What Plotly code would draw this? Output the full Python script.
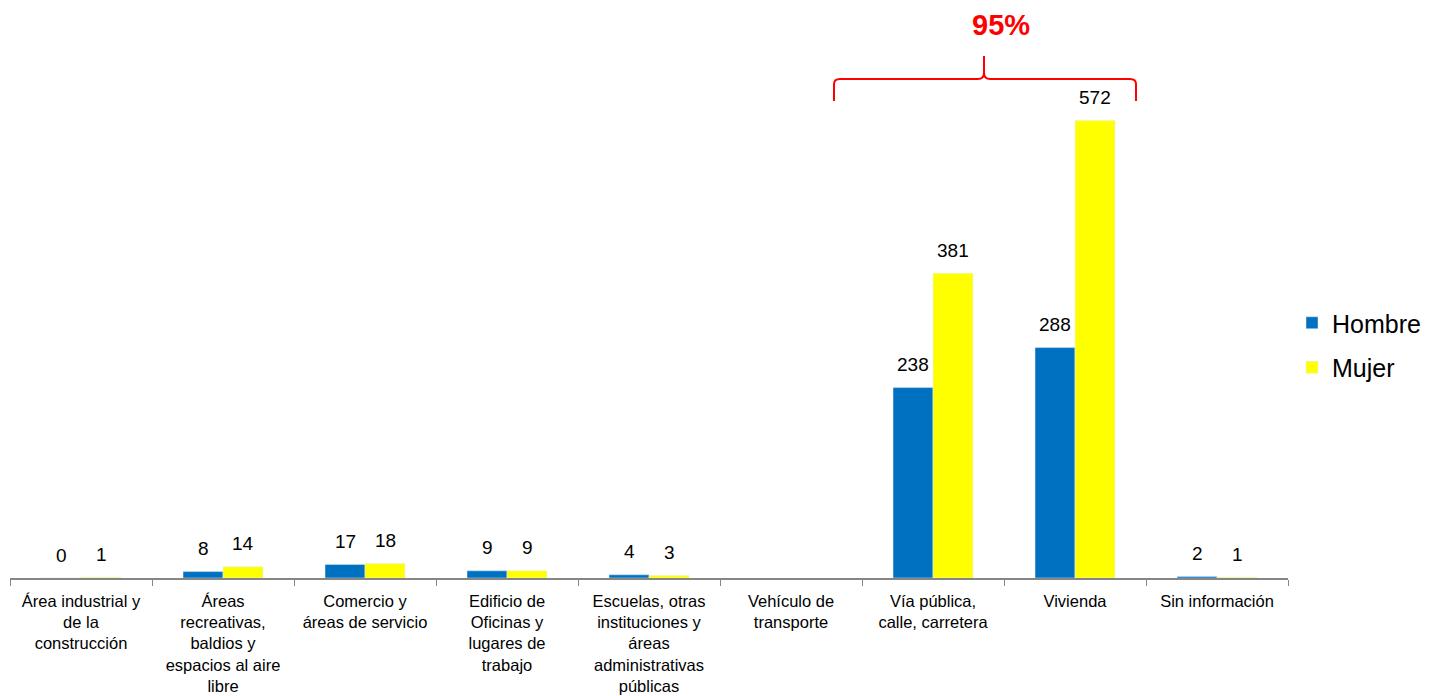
import plotly.graph_objects as go

categories = [
    "Área industrial y<br>de la<br>construcción",
    "Áreas<br>recreativas,<br>baldios y<br>espacios al aire<br>libre",
    "Comercio y<br>áreas de servicio",
    "Edificio de<br>Oficinas y<br>lugares de<br>trabajo",
    "Escuelas, otras<br>instituciones y<br>áreas<br>administrativas<br>públicas",
    "Vehículo de<br>transporte",
    "Vía pública,<br>calle, carretera",
    "Vivienda",
    "Sin información",
]
hombre = [0, 8, 17, 9, 4, None, 238, 288, 2]
mujer = [1, 14, 18, 9, 3, None, 381, 572, 1]

FONT = "Arial, 'Liberation Sans', sans-serif"
OFF = 8  # default page body margin
W, H = 1429 - OFF, 696 - OFF
PL, PR, PT, PB = 10, 1288, 20, 578  # plot area in page pixels
L, R, T, B = PL - OFF, W - (PR - OFF), PT - OFF, H - (PB - OFF)
pw, ph = PR - PL, PB - PT

def px(x):
    return (x - PL) / pw

def py(y):
    return (PB - y) / ph

fig = go.Figure()
fig.add_trace(go.Bar(x=categories, y=hombre, name="Hombre", marker_color="#0070C0",
                     legendgroup="h"))
fig.add_trace(go.Bar(x=categories, y=mujer, name="Mujer", marker_color="#FFFF00",
                     legendgroup="m"))

annotations = []
for cat, h, m in zip(categories, hombre, mujer):
    for val, shift in ((h, -20), (m, 20)):
        if val is None:
            continue
        annotations.append(dict(x=cat, y=val, xref="x", yref="y", text=str(val),
                                showarrow=False, xshift=shift, yshift=23,
                                yanchor="middle", xanchor="center",
                                font=dict(family=FONT, size=19, color="black")))

annotations.append(dict(x=px(1001), y=py(25), xref="paper", yref="paper", text="<b>95%</b>",
                        showarrow=False, xanchor="center", yanchor="middle",
                        font=dict(family=FONT, size=29, color="#FF0000")))

def bpath():
    x0, x1, xt = 834, 1136, 984
    yb, yl, yt = 101, 79, 56
    def P(x, y):
        return f"{px(x):.5f},{py(y):.5f}"
    return (f"M {P(x0, yb)} L {P(x0, yl+5)} Q {P(x0, yl)} {P(x0+6, yl)} "
            f"L {P(xt-6, yl)} Q {P(xt, yl)} {P(xt, yl-6)} L {P(xt, yt)} "
            f"L {P(xt, yl-6)} Q {P(xt, yl)} {P(xt+6, yl)} "
            f"L {P(x1-6, yl)} Q {P(x1, yl)} {P(x1, yl+5)} L {P(x1, yb)}")

fig.add_shape(type="path", path=bpath(), xref="paper", yref="paper",
              line=dict(color="#FF0000", width=2))

fig.update_layout(
    width=W, height=H,
    margin=dict(l=L, r=R, t=T, b=B, autoexpand=False),
    plot_bgcolor="white", paper_bgcolor="white",
    barmode="group", bargap=0.437, bargroupgap=0,
    font=dict(family=FONT, color="black"),
    showlegend=True,
    legend=dict(x=px(1292), y=py(345), xanchor="left", yanchor="middle",
                font=dict(family=FONT, size=25, color="black"),
                tracegroupgap=9, traceorder="grouped",
                bgcolor="rgba(0,0,0,0)"),
    annotations=annotations,
)
fig.update_xaxes(showline=True, linecolor="#868686", linewidth=1.5,
                 ticks="outside", tickson="boundaries", ticklen=6, tickcolor="#868686",
                 ticklabelstandoff=7,
                 tickfont=dict(family=FONT, size=16.5, color="black"),
                 showgrid=False, zeroline=False, fixedrange=True)
fig.update_yaxes(visible=False, range=[0, ph / 0.8], showgrid=False, zeroline=False)

fig.write_html("out.html")
